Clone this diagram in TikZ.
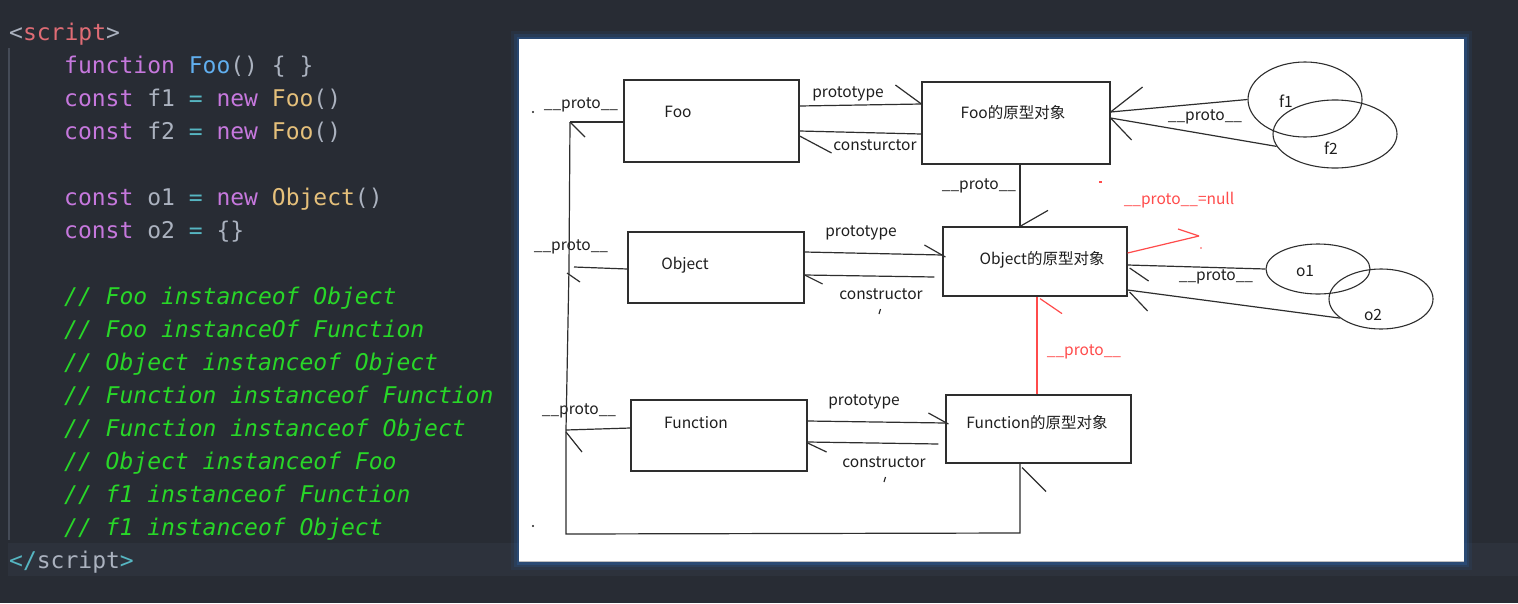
\documentclass[tikz,border=0pt]{standalone}
\usepackage{fontspec}
\usetikzlibrary{shapes.geometric,calc}
\newfontfamily\codefont{DejaVu Sans Mono}
\newfontfamily\cjk{Noto Sans CJK SC}
\definecolor{bg}{HTML}{282C34}
\definecolor{hl}{HTML}{2D323C}
\definecolor{guide}{HTML}{454B57}
\definecolor{cgrey}{HTML}{ABB2BF}
\definecolor{tagred}{HTML}{E06C75}
\definecolor{kw}{HTML}{C678DD}
\definecolor{fnblue}{HTML}{61AFEF}
\definecolor{cls}{HTML}{E5C07B}
\definecolor{op}{HTML}{56B6C2}
\definecolor{cmt}{RGB}{40,215,40}
\definecolor{glowblue}{HTML}{2A5FA5}
\definecolor{ln}{HTML}{2E2E2E}
\definecolor{ink}{HTML}{1E1E1E}
\definecolor{redl}{HTML}{FF4B4B}
\begin{document}
\begin{tikzpicture}[x=1pt,y=-1pt,
  code/.style={anchor=base west, inner sep=0pt, font=\codefont\fontsize{23}{23}\selectfont, text=cgrey},
  lbl/.style={inner sep=0pt, font=\cjk\fontsize{15.5}{15.5}\selectfont, text=ink},
  rlbl/.style={lbl, text=redl},
  box/.style={draw=ln, line width=1.2pt, inner sep=0pt},
  ell/.style={ellipse, draw=ln, line width=1.1pt, inner sep=0pt},
  conn/.style={draw=ln, line width=1.2pt},
  rconn/.style={draw=redl, line width=1.2pt}]
\useasboundingbox (0,0) rectangle (1518,603);
\fill[bg] (0,0) rectangle (1518,603);
\fill[hl] (8,543) rectangle (1518,576);
\draw[guide, line width=1.5pt] (9,48) -- (9,540);
% code
\node[code] (l1) at (9,40) {<\textcolor{tagred}{script}>};
\node[code] (l2) at (64,73) {\textcolor{kw}{function} \textcolor{fnblue}{Foo}() \{ \}};
\node[code] (l3) at (64,106) {\textcolor{kw}{const} f1 \textcolor{op}{=} \textcolor{kw}{new} \textcolor{cls}{Foo}()};
\node[code] (l4) at (64,139) {\textcolor{kw}{const} f2 \textcolor{op}{=} \textcolor{kw}{new} \textcolor{cls}{Foo}()};
\node[code] (l5) at (64,205) {\textcolor{kw}{const} o1 \textcolor{op}{=} \textcolor{kw}{new} \textcolor{cls}{Object}()};
\node[code] (l6) at (64,238) {\textcolor{kw}{const} o2 \textcolor{op}{=} \{\}};
\node[code, text=cmt] (c1) at (64,304) {\itshape // Foo instanceof Object};
\node[code, text=cmt] (c2) at (64,337) {\itshape // Foo instanceOf Function};
\node[code, text=cmt] (c3) at (64,370) {\itshape // Object instanceof Object};
\node[code, text=cmt] (c4) at (64,403) {\itshape // Function instanceof Function};
\node[code, text=cmt] (c5) at (64,436) {\itshape // Function instanceof Object};
\node[code, text=cmt] (c6) at (64,469) {\itshape // Object instanceof Foo};
\node[code, text=cmt] (c7) at (64,502) {\itshape // f1 instanceof Function};
\node[code, text=cmt] (c8) at (64,535) {\itshape // f1 instanceof Object};
\node[code] (l9) at (9,568) {\textcolor{op}{</}script\textcolor{op}{>}};
% panel
\fill[glowblue, opacity=0.12] (511,31) rectangle (1472,570);
\fill[glowblue, opacity=0.2] (514,34) rectangle (1469,567);
\fill[glowblue, opacity=0.35] (516.5,36.5) rectangle (1466.5,564.5);
\fill[white] (519,39) rectangle (1464,562);
\draw[black!25, line width=1pt] (519,561.5) -- (1464,561.5);
% boxes
\node[box, minimum width=175, minimum height=82] (foo) at (711.5,121) {};
\node[box, minimum width=188, minimum height=82] (foop) at (1016,123) {};
\node[box, minimum width=176, minimum height=71] (obj) at (716,267.5) {};
\node[box, minimum width=184, minimum height=69] (objp) at (1035,261.5) {};
\node[box, minimum width=176, minimum height=71] (fn) at (719,435.5) {};
\node[box, minimum width=185, minimum height=68] (fnp) at (1038.5,429) {};
\node[ell, minimum width=114, minimum height=75] (f1) at (1305,99.5) {};
\node[ell, minimum width=124, minimum height=68] (f2) at (1335,134) {};
\node[ell, minimum width=104, minimum height=50] (o1) at (1318,269) {};
\node[ell, minimum width=104, minimum height=60] (o2) at (1381,299) {};
% box texts
\node[lbl] (tfoo) at (678,112) {Foo};
\node[lbl] (tfoop) at (1013,113) {Foo的原型对象};
\node[lbl] (tobj) at (685,265) {Object};
\node[lbl] (tobjp) at (1042,260) {Object的原型对象};
\node[lbl] (tfn) at (696,423) {Function};
\node[lbl] (tfnp) at (1037,423) {Function的原型对象};
\node[lbl] (tf1) at (1286,101) {f1};
\node[lbl] (tf2) at (1331,148) {f2};
\node[lbl] (to1) at (1305,271) {o1};
\node[lbl] (to2) at (1373,315) {o2};
% edge labels
\node[lbl] (p1) at (848,94) {prototype};
\node[lbl] (k1) at (875,145) {consturctor};
\node[lbl] (p2) at (861,233) {prototype};
\node[lbl] (k2) at (881,294) {constructor};
\node[lbl] (p3) at (864,402) {prototype};
\node[lbl] (k3) at (884,462) {constructor};
\draw[ink, line width=1.1pt] (880.5,309) -- (879,314);
\draw[ink, line width=1.1pt] (885.5,477) -- (884,482);
\node[lbl] (u1) at (581,105) {\_\_proto\_\_};
\node[lbl] (u2) at (571,247) {\_\_proto\_\_};
\node[lbl] (u3) at (579,411) {\_\_proto\_\_};
\node[lbl] (u4) at (979,186) {\_\_proto\_\_};
\node[lbl] (u5) at (1205,117) {\_\_proto\_\_};
\node[lbl] (u6) at (1216,277) {\_\_proto\_\_};
\node[rlbl] (r1) at (1179,200) {\_\_proto\_\_=null};
\node[rlbl] (r2) at (1084,352) {\_\_proto\_\_};
\fill[ink] (533,112) circle (1.1);
\fill[ink] (533,526) circle (1.1);
% left spine
\coordinate (L1) at (570,122);
\coordinate (L2) at (569,268);
\coordinate (L3) at (566,430);
\coordinate (L4) at (566,534);
\coordinate (L5) at (1020,533);
\draw[conn] (foo.west |- 0,122) -- (L1);
\draw[conn] (L1) -- ++(15,15);
\draw[conn] (obj.west |- 0,269) -- (574,267);
\draw[conn] (567,273) -- ++(13,9);
\draw[conn] (fn.west |- 0,428) -- (L3);
\draw[conn] (566,432) -- ++(16,20);
\draw[conn] (L1) -- (L2) -- (L3) -- (L4) -- (L5) -- (L5 |- fnp.south);
\draw[conn] ($(L5 |- fnp.south)+(2,4)$) -- ++(24,24);
% Foo row
\draw[conn] (foo.east |- 0,106) -- (foop.west |- 0,104);
\draw[conn] (foop.west |- 0,104) -- ++(-26,-19);
\draw[conn] (foop.west |- 0,134) -- (foo.east |- 0,131);
\draw[conn] (foo.east |- 0,136) -- ++(32,17);
\draw[conn] (1020,0 |- foop.south) -- (1020,0 |- objp.north);
\draw[conn] (1020,0 |- objp.north) -- ++(28,-16);
\draw[conn] (f1.west) -- (foop.east |- 0,112);
\draw[conn] (foop.east |- 0,112) -- ++(32,-25);
\draw[conn] (f2.192) -- (foop.east |- 0,118);
\draw[conn] (foop.east |- 0,118) -- ++(21,22);
% Object row
\draw[conn] (obj.east |- 0,252) -- (objp.west |- 0,255);
\draw[conn] ($(objp.west |- 0,257)+(3,0)$) -- ++(-21,-12);
\draw[conn] ($(objp.west |- 0,277)+(-8,0)$) -- (obj.east |- 0,275);
\draw[conn] (obj.east |- 0,275) -- ++(18,9);
\draw[conn] (o1.west) -- (objp.east |- 0,265);
\draw[conn] ($(objp.east |- 0,268)+(2,0)$) -- ++(19,13);
\draw[conn] (o2.205) -- (objp.east |- 0,290);
\draw[conn] ($(objp.east |- 0,292)+(2,0)$) -- ++(18,19);
% red
\coordinate (R1) at (1199,236);
\draw[rconn] (objp.east |- 0,253) -- (R1);
\draw[rconn] (R1) -- ++(-21,-7);
\fill[redl] (1201,248) circle (0.9);
\draw[rconn] (1099,182) -- (1102,182);
\draw[rconn] (1037,0 |- fnp.north) -- (1037,0 |- objp.south);
\draw[rconn] ($(1037,0 |- objp.south)+(3,2)$) -- ++(22,15);
% Function row
\draw[conn] (fn.east |- 0,421) -- (fnp.west |- 0,423);
\draw[conn] ($(fnp.west |- 0,424)+(3,0)$) -- ++(-20,-11);
\draw[conn] ($(fnp.west |- 0,444)+(-7,0)$) -- (fn.east |- 0,442);
\draw[conn] (fn.east |- 0,443) -- ++(19,9);
\end{tikzpicture}
\end{document}
